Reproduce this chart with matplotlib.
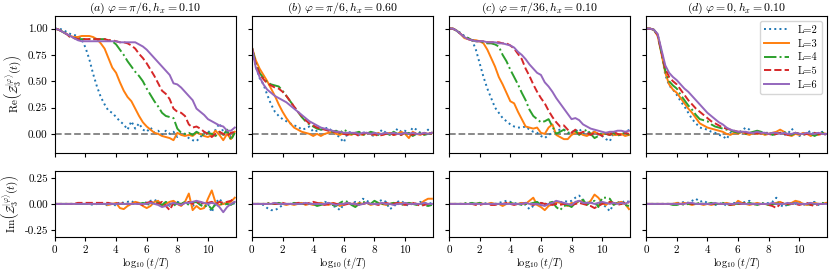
import numpy as np
import matplotlib
matplotlib.use('Agg')
import matplotlib.pyplot as plt

plt.rcParams['font.family'] = 'serif'
plt.rcParams['font.serif'] = ['cmr10']
plt.rcParams['mathtext.fontset'] = 'cm'
plt.rcParams['axes.formatter.use_mathtext'] = True
plt.rcParams['font.size'] = 8

# log10(t/T) grid
x = np.linspace(0, 11.75, 48)

# ---- Re part, panel (a)
a_L2 = [1.00, 1.00, 0.99, 0.97, 0.95, 0.94, 0.93, 0.90, 0.82, 0.71, 0.57, 0.45, 0.35, 0.28, 0.22, 0.20,
        0.16, 0.12, 0.09, 0.04, 0.12, 0.05, 0.10, 0.04, 0.02, 0.06, 0.01, 0.03, -0.01, 0.03, 0.00, 0.02,
        -0.03, 0.01, -0.01, -0.04, -0.06, -0.07, -0.03, 0.01, 0.03, -0.01, 0.04, 0.10, 0.02, 0.01, -0.03, 0.03]
a_L3 = [1.00, 0.99, 0.97, 0.95, 0.93, 0.92, 0.92, 0.93, 0.93, 0.93, 0.92, 0.90, 0.86, 0.81, 0.72, 0.63,
        0.58, 0.49, 0.41, 0.35, 0.31, 0.24, 0.17, 0.11, 0.07, 0.04, 0.01, 0.00, -0.02, -0.03, -0.04, -0.06,
        0.01, -0.01, -0.02, -0.01, -0.02, 0.01, 0.00, -0.02, -0.03, -0.01, 0.03, -0.01, -0.06, 0.00, -0.05, 0.02]
a_L4 = [1.00, 0.99, 0.97, 0.95, 0.92, 0.91, 0.90, 0.90, 0.90, 0.90, 0.90, 0.90, 0.90, 0.90, 0.89, 0.88,
        0.85, 0.80, 0.75, 0.69, 0.64, 0.59, 0.55, 0.50, 0.43, 0.37, 0.31, 0.26, 0.20, 0.17, 0.16, 0.15,
        0.05, 0.01, 0.00, 0.01, -0.01, 0.02, 0.00, -0.02, 0.01, 0.00, -0.02, 0.02, -0.01, 0.04, -0.06, 0.01]
a_L5 = [1.00, 0.99, 0.97, 0.95, 0.92, 0.91, 0.90, 0.90, 0.90, 0.90, 0.90, 0.90, 0.90, 0.90, 0.89, 0.89,
        0.88, 0.87, 0.87, 0.86, 0.84, 0.81, 0.76, 0.72, 0.67, 0.61, 0.55, 0.48, 0.41, 0.38, 0.33, 0.24,
        0.21, 0.20, 0.17, 0.09, 0.06, 0.07, 0.05, 0.02, 0.00, -0.03, 0.00, 0.02, 0.00, -0.02, 0.01, 0.02]
a_L6 = [1.00, 0.99, 0.97, 0.95, 0.93, 0.91, 0.89, 0.88, 0.88, 0.88, 0.88, 0.88, 0.88, 0.88, 0.88, 0.88,
        0.88, 0.87, 0.87, 0.87, 0.87, 0.87, 0.85, 0.83, 0.80, 0.76, 0.72, 0.68, 0.64, 0.60, 0.56, 0.48,
        0.47, 0.44, 0.40, 0.36, 0.32, 0.24, 0.21, 0.18, 0.14, 0.12, 0.10, 0.08, 0.07, 0.03, 0.03, 0.06]

# ---- Re part, panel (b)
b_L2 = [0.82, 0.64, 0.53, 0.47, 0.37, 0.28, 0.21, 0.17, 0.14, 0.12, 0.10, 0.08, 0.07, 0.04, 0.05, 0.07,
        0.02, 0.03, 0.04, 0.05, 0.06, 0.02, 0.00, -0.04, -0.08, 0.01, 0.02, 0.00, -0.01, 0.01, 0.02, -0.01,
        -0.02, 0.00, 0.04, 0.01, 0.00, -0.01, 0.05, 0.02, 0.03, 0.00, 0.06, 0.04, 0.01, 0.00, 0.04, 0.02]
b_L3 = [0.82, 0.70, 0.62, 0.56, 0.50, 0.43, 0.36, 0.28, 0.21, 0.15, 0.10, 0.06, 0.04, 0.02, 0.01, 0.00,
        -0.02, 0.00, -0.02, 0.00, 0.01, 0.02, 0.00, -0.01, 0.01, 0.00, -0.01, 0.01, 0.00, -0.01, 0.01, 0.00,
        -0.01, 0.01, -0.01, 0.00, 0.01, -0.01, 0.00, 0.02, 0.00, -0.04, 0.02, 0.00, -0.01, 0.01, 0.00, 0.01]
b_L4 = [0.82, 0.67, 0.58, 0.53, 0.49, 0.47, 0.46, 0.45, 0.41, 0.36, 0.31, 0.26, 0.21, 0.16, 0.12, 0.09,
        0.07, 0.05, 0.04, 0.05, 0.03, 0.02, 0.03, 0.01, 0.04, 0.02, 0.00, 0.01, 0.02, -0.01, 0.00, 0.02,
        0.01, -0.01, 0.00, 0.01, -0.01, 0.02, 0.00, -0.01, 0.00, 0.01, -0.02, 0.00, 0.01, -0.01, 0.00, 0.00]
b_L5 = [0.82, 0.66, 0.57, 0.52, 0.48, 0.46, 0.44, 0.43, 0.40, 0.36, 0.31, 0.26, 0.21, 0.17, 0.13, 0.10,
        0.08, 0.06, 0.05, 0.04, 0.03, 0.02, 0.02, 0.01, 0.00, -0.01, 0.01, 0.00, -0.02, 0.00, 0.01, -0.01,
        0.00, -0.02, -0.01, 0.00, 0.01, -0.01, 0.00, -0.01, 0.01, 0.00, -0.01, 0.01, 0.00, 0.00, 0.01, 0.00]
b_L6 = [0.82, 0.63, 0.54, 0.47, 0.42, 0.39, 0.36, 0.34, 0.32, 0.30, 0.27, 0.24, 0.21, 0.18, 0.15, 0.12,
        0.10, 0.08, 0.06, 0.05, 0.04, 0.03, 0.02, 0.02, 0.01, 0.01, 0.01, 0.01, 0.00, 0.01, 0.01, 0.00,
        0.01, 0.00, 0.00, 0.01, 0.00, 0.01, 0.00, 0.00, 0.01, 0.00, 0.01, 0.00, 0.00, 0.01, 0.00, 0.01]

# ---- Re part, panel (c)
c_L2 = [1.00, 1.00, 0.98, 0.96, 0.93, 0.91, 0.89, 0.80, 0.67, 0.54, 0.43, 0.34, 0.25, 0.20, 0.15, 0.12,
        0.09, 0.07, 0.06, 0.06, 0.07, 0.04, 0.02, 0.01, -0.02, -0.04, -0.01, 0.01, 0.03, 0.04, 0.04, 0.01,
        -0.01, 0.02, 0.05, 0.00, 0.01, 0.02, 0.02, -0.01, -0.02, -0.05, -0.07, 0.01, -0.02, 0.00, 0.01, 0.04]
c_L3 = [1.00, 1.00, 0.98, 0.95, 0.91, 0.90, 0.89, 0.89, 0.88, 0.86, 0.80, 0.72, 0.64, 0.54, 0.47, 0.39,
        0.31, 0.29, 0.21, 0.14, 0.07, 0.06, 0.05, 0.06, 0.01, 0.00, 0.06, 0.09, -0.01, -0.03, -0.05, -0.05,
        -0.01, 0.01, 0.01, -0.01, -0.02, 0.00, 0.02, 0.00, -0.01, 0.01, 0.01, -0.01, -0.01, 0.00, -0.02, -0.01]
c_L4 = [1.00, 1.00, 0.98, 0.95, 0.92, 0.91, 0.89, 0.88, 0.88, 0.87, 0.86, 0.86, 0.85, 0.83, 0.75, 0.69,
        0.61, 0.54, 0.47, 0.39, 0.32, 0.23, 0.17, 0.14, 0.11, 0.12, 0.14, 0.07, 0.00, 0.02, 0.04, 0.01,
        0.02, 0.03, -0.01, 0.02, 0.04, 0.00, -0.04, -0.02, 0.01, 0.00, -0.01, 0.01, -0.02, 0.00, 0.01, -0.01]
c_L5 = [1.00, 1.00, 0.98, 0.95, 0.92, 0.90, 0.89, 0.88, 0.88, 0.88, 0.87, 0.87, 0.87, 0.87, 0.86, 0.86,
        0.84, 0.81, 0.76, 0.71, 0.62, 0.55, 0.47, 0.40, 0.34, 0.29, 0.22, 0.16, 0.11, 0.07, 0.08, 0.04,
        0.01, 0.04, 0.00, 0.02, 0.01, -0.01, 0.01, 0.00, -0.02, 0.00, -0.01, 0.02, 0.00, -0.01, 0.01, 0.00]
c_L6 = [1.00, 1.00, 0.98, 0.95, 0.92, 0.90, 0.89, 0.88, 0.88, 0.88, 0.87, 0.87, 0.87, 0.86, 0.86, 0.85,
        0.84, 0.82, 0.78, 0.75, 0.71, 0.66, 0.62, 0.58, 0.56, 0.49, 0.45, 0.40, 0.34, 0.29, 0.24, 0.19,
        0.14, 0.15, 0.13, 0.09, 0.07, 0.05, 0.04, 0.03, 0.02, 0.01, 0.02, 0.02, 0.03, 0.03, 0.02, 0.03]

# ---- Re part, panel (d)
d_L2 = [1.00, 1.00, 0.99, 0.93, 0.76, 0.56, 0.46, 0.42, 0.37, 0.31, 0.26, 0.20, 0.14, 0.10, 0.06, 0.05,
        0.04, 0.02, 0.01, -0.01, -0.02, -0.05, 0.01, 0.02, 0.01, 0.03, 0.06, 0.04, 0.01, 0.00, 0.02, 0.00,
        0.02, -0.01, 0.00, 0.01, -0.01, 0.00, 0.05, 0.01, -0.02, 0.00, 0.01, 0.03, -0.01, 0.00, 0.02, -0.01]
d_L3 = [1.00, 1.00, 0.99, 0.93, 0.76, 0.58, 0.47, 0.42, 0.39, 0.34, 0.29, 0.24, 0.20, 0.15, 0.10, 0.08,
        0.06, 0.05, 0.04, 0.03, 0.02, 0.00, -0.01, 0.01, 0.00, 0.02, 0.00, -0.01, 0.01, 0.00, 0.01, -0.01,
        0.00, 0.01, 0.02, 0.04, 0.02, -0.01, -0.02, 0.00, -0.01, 0.01, 0.00, -0.02, 0.00, -0.01, 0.01, 0.00]
d_L4 = [1.00, 1.00, 0.99, 0.94, 0.77, 0.60, 0.50, 0.46, 0.43, 0.37, 0.32, 0.27, 0.23, 0.18, 0.14, 0.13,
        0.12, 0.09, 0.07, 0.06, 0.05, 0.04, 0.03, 0.02, 0.01, 0.02, 0.00, 0.01, 0.02, 0.03, 0.02, 0.00,
        0.01, -0.01, 0.00, 0.01, 0.02, 0.00, -0.01, 0.01, 0.00, -0.01, 0.01, 0.00, -0.02, 0.00, 0.01, 0.00]
d_L5 = [1.00, 1.00, 0.99, 0.94, 0.78, 0.62, 0.54, 0.50, 0.47, 0.42, 0.37, 0.32, 0.28, 0.24, 0.21, 0.18,
        0.15, 0.12, 0.10, 0.08, 0.06, 0.05, 0.04, 0.03, 0.02, 0.02, 0.01, 0.01, 0.00, 0.01, 0.00, 0.01,
        0.00, -0.01, 0.00, 0.01, 0.00, -0.01, 0.00, 0.01, 0.00, -0.01, 0.00, 0.00, 0.01, 0.00, -0.01, 0.00]
d_L6 = [1.00, 1.00, 0.99, 0.95, 0.80, 0.65, 0.58, 0.54, 0.51, 0.47, 0.43, 0.40, 0.36, 0.32, 0.28, 0.24,
        0.20, 0.17, 0.14, 0.11, 0.09, 0.06, 0.04, 0.03, 0.02, 0.02, 0.02, 0.01, 0.01, 0.02, 0.01, 0.01,
        0.00, 0.01, 0.01, 0.00, 0.01, 0.00, 0.00, 0.01, 0.00, 0.00, 0.01, 0.00, 0.00, 0.01, 0.00, 0.00]

# ---- Im part
ia_L2 = [0, 0, 0, 0, 0, 0, 0, 0, 0, 0.00, -0.01, 0, 0, 0, -0.02, 0.01, -0.02, 0.02, 0.01, 0.02, 0.03, 0.00, 0.01, -0.01,
         0.02, 0.03, 0.04, 0.02, 0.00, 0.01, -0.02, 0.00, 0.02, 0.01, -0.01, 0.03, -0.02, 0.01, 0.02, -0.03,
         0.00, -0.08, 0.01, 0.05, 0.00, 0.02, 0.01, 0.00]
ia_L3 = [0, 0, 0, 0, 0, 0, 0, 0, 0, 0, 0, 0, 0, 0.00, -0.01, 0.00, 0.01, -0.04, -0.05, -0.02, 0.00, 0.02, 0.01, -0.02,
         -0.04, -0.02, 0.02, 0.03, -0.02, 0.00, 0.02, 0.03, 0.00, -0.02, 0.02, 0.10, -0.06, -0.02, -0.05, -0.04,
         0.05, 0.13, 0.01, -0.01, 0.00, 0.01, 0.02, 0.06]
ia_L4 = [0, 0, 0, 0, 0, 0, 0, 0, 0, 0, 0, 0, 0, 0, 0, 0, 0, 0, 0, 0, 0, 0, 0.00, 0.01,
         0.00, -0.01, 0.02, 0.01, -0.01, 0.02, 0.00, -0.02, 0.01, 0.00, 0.02, -0.01, 0.01, 0.02, -0.01, -0.03,
         -0.01, -0.05, 0.00, 0.01, -0.01, 0.00, -0.01, 0.02]
ia_L5 = [0, 0, 0, 0, 0, 0, 0.01, 0.01, 0.01, 0.01, 0.01, 0.01, 0.01, 0.01, 0.01, 0.00, 0.01, 0.00, 0.01, 0.00, 0.00, 0.01, 0.00, -0.01,
         0.01, 0.02, 0.01, 0.00, 0.02, -0.02, -0.06, 0.01, 0.00, -0.01, 0.01, 0.02, 0.00, 0.01, 0.02, 0.00,
         0.01, 0.02, 0.00, 0.02, 0.01, 0.02, 0.03, 0.06]
ia_L6 = [0, 0, 0, 0, 0, 0, 0, 0, 0, 0, 0, 0, 0, 0, 0, 0, 0, 0, 0, 0, 0, 0, 0, 0,
         0.00, 0.01, 0.00, -0.01, -0.03, -0.02, 0.00, 0.01, 0.00, -0.01, 0.01, 0.01, 0.02, 0.03, 0.02, 0.01,
         0.00, 0.01, 0.00, -0.03, -0.08, -0.03, 0.00, 0.02]

ib_L2 = [0, 0, 0, -0.01, -0.04, -0.06, -0.06, -0.04, -0.01, 0, 0, 0.01, 0, 0.01, 0, 0, 0.01, 0, 0.01, 0.02,
         0.01, -0.02, -0.03, -0.06, 0, 0.01, 0, 0.02, 0.01, 0.05, 0.03, 0.01, -0.01, 0.02, 0.04, 0.02, -0.05, -0.03, 0.02, 0.03,
         0, -0.02, 0.01, 0, 0.02, 0.01, 0, 0.01]
ib_L3 = [0, 0, 0, 0, 0, 0, 0, 0, 0, -0.01, 0, -0.01, 0, 0.01, -0.01, 0, -0.01, 0, 0.01, 0, -0.01, 0.01, 0, -0.02,
         0, 0.01, 0, -0.01, 0.01, 0, 0.01, -0.01, 0, 0.01, 0, -0.01, 0, 0.01, 0, 0.01, 0, 0.01, 0, 0, 0, 0.03, 0.05, 0.05]
ib_L4 = [0, 0, 0, 0, 0.01, 0, 0, 0.01, 0, 0, 0, 0.01, 0, 0, 0, 0, 0, -0.02, -0.01, 0,
         0.01, -0.01, -0.02, 0.01, 0.03, 0.02, -0.01, -0.03, 0, 0.02, 0.01, 0, 0.03, 0.01, 0, -0.01, 0, 0.01, 0, -0.01,
         0, 0.01, 0, -0.01, 0, -0.01, -0.02, -0.01]
ib_L5 = [0, 0, 0, 0, 0, 0.01, 0, 0, 0.01, 0, 0, 0, 0.01, 0.01, 0, 0.01, 0.02, 0.01, 0, -0.01,
         0, 0.01, 0, 0, -0.01, 0, 0.01, 0, -0.01, 0, 0.01, 0, 0, -0.01, 0, 0.01, 0, 0, 0.01, 0,
         -0.01, 0, 0.01, 0, -0.02, -0.01, 0, 0]
ib_L6 = [0, 0, 0, 0, 0, 0, 0.01, 0, 0, 0, 0, 0, 0, 0, 0.01, 0, 0, 0, 0, 0,
         0.01, 0, -0.01, 0, 0, 0.01, 0, 0, -0.01, 0, 0.01, 0, 0, 0, 0.01, 0, 0, -0.01, 0, 0,
         0.01, 0, 0, 0, 0, 0.01, 0, 0]

ic_L2 = [0, 0, 0, 0, 0, 0, 0.01, 0, 0.01, 0, 0.01, 0, 0, 0.01, 0.02, 0.03, 0.02, 0.01, 0, 0.01,
         -0.01, -0.05, -0.02, 0, 0.01, 0, -0.01, 0.01, 0.02, 0.01, 0.03, 0.02, 0.03, 0.06, 0.08, 0.04, 0.01, 0.02, -0.01, 0.01,
         0, -0.03, -0.07, 0, 0.02, 0.01, 0.03, 0.02]
ic_L3 = [0, 0, 0, 0, 0, 0, 0, 0, 0.01, 0, 0, 0.01, 0, 0, -0.02, 0, 0.01, 0, 0, 0.01,
         0, 0.03, 0.06, -0.01, -0.03, -0.06, -0.02, 0, 0.02, 0.01, 0, -0.02, 0.01, 0, 0.03, 0.02, 0, 0.03, 0.09, 0.06,
         0.01, -0.01, 0.02, 0, 0.01, 0.02, 0, -0.05]
ic_L4 = [0, 0, 0, 0, 0.01, 0, 0.01, 0, 0.01, 0, 0, 0, 0, 0, 0, 0, 0.01, 0, 0, -0.01,
         0, 0, 0.01, 0.02, -0.01, 0, 0.01, 0.02, -0.03, -0.06, -0.02, -0.01, -0.03, 0.01, 0.03, 0.04, -0.01, 0.02, 0.03, -0.03,
         0.06, 0.06, 0.05, -0.01, 0.01, 0, -0.01, -0.02]
ic_L5 = [0, 0, 0, 0, 0, 0, 0, -0.01, -0.01, 0, 0, -0.01, -0.01, 0, 0, 0.01, 0, -0.01, 0, 0,
         0.01, 0, -0.01, 0, 0.01, 0, 0, -0.01, 0, -0.01, 0, 0, -0.01, 0, 0.01, 0, -0.01, -0.02, -0.04, -0.02,
         0, 0.01, 0.02, 0.01, -0.01, 0, 0.01, 0.01]
ic_L6 = [0, 0, 0, 0, 0, 0, 0, 0, 0, 0, 0, 0, 0, 0, 0, 0, 0, 0, 0, 0,
         0.01, 0, 0, 0, -0.01, -0.02, 0, 0.01, 0.03, 0.02, 0.01, 0, -0.01, 0.02, 0.03, 0.01, 0.01, 0.01, 0, 0.01,
         0.02, 0.01, 0, 0.01, 0, 0.01, 0, 0.02]

id_L2 = [0, 0, 0, 0, 0, 0, 0, 0, 0.01, 0.01, 0.02, 0.01, 0.03, 0.05, 0.02, 0.03, 0.01, 0, -0.01, 0,
         0.01, -0.02, 0, 0.01, 0, 0.01, 0.02, 0.03, 0, -0.01, 0.01, 0, 0.01, 0.02, 0.06, -0.01, -0.03, 0, 0.01, 0,
         0.02, -0.01, 0, 0.01, 0.02, -0.01, 0, 0.01]
id_L3 = [0, 0, 0, 0, 0, 0, 0, 0, 0.01, 0, 0.01, 0, -0.01, 0, 0, -0.01, 0, -0.01, 0, 0,
         0, 0.01, 0, -0.01, 0.03, 0.01, 0, -0.01, 0, 0.01, 0, 0, -0.01, 0, 0.01, 0.02, 0, 0, 0.01, 0.03,
         0.02, 0, -0.01, 0, 0.01, 0, 0, 0.01]
id_L4 = [0, 0, 0, 0, 0, 0, 0, -0.01, -0.01, 0, -0.01, 0, 0, 0, 0.01, 0, 0, 0.01, 0, 0,
         0.01, 0, -0.01, 0, 0, 0.01, 0, 0.01, 0, -0.01, 0.01, 0, -0.01, 0, 0, 0.01, 0, -0.01, 0, 0.01,
         0, 0, 0, -0.01, 0, 0, 0.01, 0]
id_L5 = [0, 0, 0, 0, 0, 0, 0, 0, 0, 0, 0, 0.01, 0, 0, 0, 0, 0, 0, 0, 0,
         0, 0, -0.01, 0, 0, 0, 0.01, 0, 0, -0.01, 0, 0, -0.01, -0.02, -0.04, 0, 0.01, 0, 0, 0,
         -0.01, 0, 0.01, -0.01, -0.02, 0, 0, 0.01]
id_L6 = [0, 0, 0, 0, 0, 0, 0, 0, 0, 0, 0, 0.01, 0.01, 0, 0, 0, 0, 0, 0.01, 0,
         0, 0, 0, 0, 0.01, 0, 0, 0, 0, 0, 0, 0, 0, 0.01, 0, 0, 0, 0.01, 0, 0.01,
         0, 0, 0, 0.01, 0, 0, 0, 0]

titles = [r'$(a)\ \varphi=\pi/6, h_x=0.10$', r'$(b)\ \varphi=\pi/6, h_x=0.60$',
          r'$(c)\ \varphi=\pi/36, h_x=0.10$', r'$(d)\ \varphi=0, h_x=0.10$']
labels = ['L=2', 'L=3', 'L=4', 'L=5', 'L=6']
colors = ['tab:blue', 'tab:orange', 'tab:green', 'tab:red', 'tab:purple']
styles = [':', '-', '-.', '--', '-']

re_data = [[a_L2, a_L3, a_L4, a_L5, a_L6], [b_L2, b_L3, b_L4, b_L5, b_L6],
           [c_L2, c_L3, c_L4, c_L5, c_L6], [d_L2, d_L3, d_L4, d_L5, d_L6]]
im_data = [[ia_L2, ia_L3, ia_L4, ia_L5, ia_L6], [ib_L2, ib_L3, ib_L4, ib_L5, ib_L6],
           [ic_L2, ic_L3, ic_L4, ic_L5, ic_L6], [id_L2, id_L3, id_L4, id_L5, id_L6]]

fig, axs = plt.subplots(2, 4, figsize=(8.31, 2.71), dpi=100, sharex='col', sharey='row',
                        gridspec_kw={'height_ratios': [2.06, 1]})
fig.subplots_adjust(left=0.066, right=0.995, top=0.941, bottom=0.125, wspace=0.091, hspace=0.176)

for j in range(4):
    ax = axs[0, j]
    ax.axhline(0, color='gray', ls='--', lw=1.3, zorder=1)
    for k in range(5):
        ax.plot(x, re_data[j][k], ls=styles[k], color=colors[k], lw=1.4, label=labels[k])
    ax.set_title(titles[j], fontsize=8.5, pad=2)
    ax.set_ylim(-0.18, 1.12)
    ax.set_yticks([0, 0.25, 0.5, 0.75, 1.0])
    ax.tick_params(labelsize=8, pad=2.5, length=3)

    ax2 = axs[1, j]
    for k in range(5):
        ax2.plot(x, im_data[j][k], ls=styles[k], color=colors[k], lw=1.4)
    ax2.set_ylim(-0.32, 0.32)
    ax2.set_yticks([-0.25, 0, 0.25])
    ax2.set_xlim(0, 11.8)
    ax2.set_xticks([0, 2, 4, 6, 8, 10])
    ax2.tick_params(labelsize=8, pad=1.5, length=3)
    ax2.set_xlabel(r'$\log_{10}(t/T)$', fontsize=7.5, labelpad=0)

axs[0, 0].yaxis.set_major_formatter(plt.FormatStrFormatter('%.2f'))
axs[1, 0].yaxis.set_major_formatter(plt.FormatStrFormatter('%.2f'))
axs[0, 0].set_ylabel(r'$\mathrm{Re}\left(\mathcal{Z}_3^{|\varphi\rangle}(t)\right)$', fontsize=8, labelpad=2)
axs[1, 0].set_ylabel(r'$\mathrm{Im}\left(\mathcal{Z}_3^{|\varphi\rangle}(t)\right)$', fontsize=8, labelpad=2)
axs[0, 3].legend(loc='upper right', fontsize=7.5, handlelength=2.4, labelspacing=0.4)

plt.savefig('out.png', dpi=100)
